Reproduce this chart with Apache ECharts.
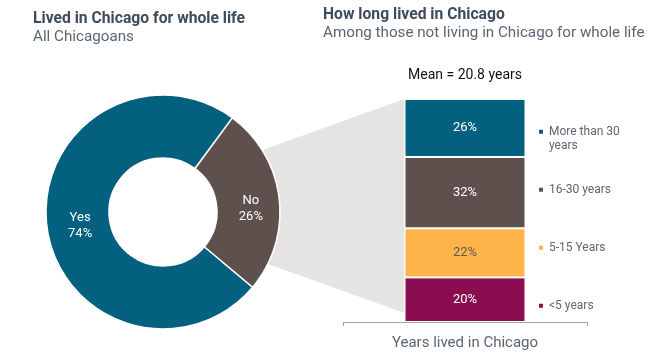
<!DOCTYPE html>
<html>
<head>
<meta charset="utf-8">
<script src="https://cdn.jsdelivr.net/npm/echarts@6/dist/echarts.min.js"></script>
<style>
html,body{margin:0;padding:0;background:#fff;}
#main{width:665px;height:357px;}
</style>
</head>
<body>
<div id="main"></div>
<script>
// ---- data ----
const pieCategories = ['Yes', 'No'];
const pieValues = [74, 26];
const barCategories = ['<5 years', '5-15 Years', '16-30 years', 'More than 30 years'];
const barValues = [20, 22, 32, 26];
const legendOrder = ['More than 30 years', '16-30 years', '5-15 Years', '<5 years'];
const meanYears = 20.8;
const axisTitle = 'Years lived in Chicago';

// ---- styles ----
const pieColors = { 'Yes': '#04607f', 'No': '#5e514d' };
const pieLabelOffsets = { 'Yes': [5, 3], 'No': [0, 7] };
const barColors = { '<5 years': '#890d50', '5-15 Years': '#ffb44a', '16-30 years': '#5e514d', 'More than 30 years': '#04607f' };
const barLabelColors = { '<5 years': '#ffffff', '5-15 Years': '#5a5a5a', '16-30 years': '#ffffff', 'More than 30 years': '#ffffff' };
const FONT = 'Roboto';
const titleColor = '#3f4b5b';
const subColor = '#5a6573';

const chart = echarts.init(document.getElementById('main'), null, { renderer: 'canvas' });

const pieCenter = [163, 212];

const legendTops = { 'More than 30 years': 110, '16-30 years': 182.5, '5-15 Years': 240.5, '<5 years': 298.5 };

const legends = legendOrder.map(function (name) {
  const multi = name === 'More than 30 years';
  return {
    data: [name],
    left: 537,
    top: legendTops[name],
    padding: 0,
    icon: 'rect',
    itemWidth: 6,
    itemHeight: 6,
    selectedMode: false,
    formatter: function (n) { return multi ? '\u00a0\nMore than 30\nyears' : n; },
    textStyle: {
      fontFamily: FONT,
      fontSize: 12,
      color: '#5f6670',
      lineHeight: 14.5
    }
  };
});

const option = {
  animation: false,
  textStyle: { fontFamily: FONT },
  title: [
    {
      left: 33, top: 10, padding: 0, itemGap: 0,
      text: 'Lived in Chicago for whole life',
      subtext: 'All Chicagoans',
      textStyle: { fontFamily: FONT, fontSize: 15.7, fontWeight: 'bold', color: titleColor, lineHeight: 18 },
      subtextStyle: { fontFamily: FONT, fontSize: 15.2, color: subColor, lineHeight: 18 }
    },
    {
      left: 323, top: 6.5, padding: 0, itemGap: 0,
      text: 'How long lived in Chicago',
      subtext: 'Among those not living in Chicago for whole life',
      textStyle: { fontFamily: FONT, fontSize: 15.7, fontWeight: 'bold', color: titleColor, lineHeight: 18 },
      subtextStyle: { fontFamily: FONT, fontSize: 15.2, color: subColor, lineHeight: 18 }
    }
  ],
  legend: legends,
  grid: { left: 343, width: 244, top: 99, bottom: 35, containLabel: false },
  xAxis: {
    type: 'category',
    data: [''],
    offset: 2,
    axisLine: { show: true, lineStyle: { color: '#a3a3a3', width: 1 } },
    axisTick: { show: true, length: 4, lineStyle: { color: '#a3a3a3' } },
    axisLabel: { show: false },
    name: axisTitle,
    nameLocation: 'middle',
    nameGap: 12,
    nameTextStyle: { fontFamily: FONT, fontSize: 15, color: subColor }
  },
  yAxis: { type: 'value', min: 0, max: 100, show: false },
  series: [
    {
      type: 'pie',
      center: pieCenter,
      radius: [54, 117],
      startAngle: 320,
      clockwise: true,
      z: 5,
      itemStyle: { borderColor: '#ffffff', borderWidth: 1.5 },
      label: {
        show: true,
        position: 'inside',
        formatter: '{b}\n{c}%',
        color: '#ffffff',
        fontFamily: FONT,
        fontSize: 13,
        lineHeight: 16
      },
      labelLine: { show: false },
      emphasis: { disabled: true },
      data: pieCategories.map(function (c, i) {
        return { name: c, value: pieValues[i], itemStyle: { color: pieColors[c] }, label: { offset: pieLabelOffsets[c] } };
      })
    }
  ].concat(barCategories.map(function (c, i) {
    return {
      type: 'bar',
      name: c,
      stack: 'years',
      barWidth: 121,
      z: 5,
      itemStyle: { color: barColors[c], borderColor: '#ffffff', borderWidth: 1 },
      label: {
        show: true,
        position: 'inside',
        formatter: '{c}%',
        color: barLabelColors[c],
        fontFamily: FONT,
        fontSize: 13
      },
      emphasis: { disabled: true },
      data: [barValues[i]]
    };
  }))
};

chart.setOption(option);

// connector polygon + mean label, computed from the chart's own scales
const topPt = chart.convertToPixel({ gridIndex: 0 }, [0, 100]);
const botPt = chart.convertToPixel({ gridIndex: 0 }, [0, 4]);
const barLeft = topPt[0] - 121 / 2;
chart.setOption({
  graphic: [
    {
      type: 'polygon',
      z: 0,
      silent: true,
      shape: {
        points: [
          [barLeft, topPt[1]],
          [barLeft, botPt[1]],
          [pieCenter[0] + 77, pieCenter[1] + 42],
          [pieCenter[0] + 77, pieCenter[1] - 54]
        ]
      },
      style: { fill: '#e6e4e2' }
    },
    {
      type: 'text',
      x: topPt[0],
      y: 75,
      silent: true,
      style: {
        text: 'Mean = ' + meanYears + ' years',
        fontFamily: FONT,
        fontSize: 14,
        fill: '#111111',
        align: 'center',
        verticalAlign: 'middle'
      }
    }
  ]
});
</script>
</body>
</html>
